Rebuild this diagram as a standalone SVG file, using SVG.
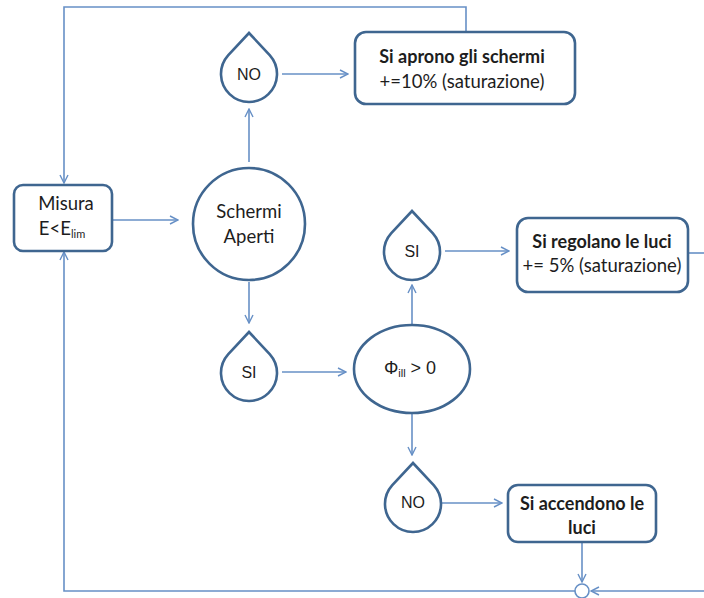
<svg xmlns="http://www.w3.org/2000/svg" width="704" height="598" viewBox="0 0 704 598">
  <defs>
    <marker id="arrow" viewBox="0 0 10 10" refX="9" refY="5" markerWidth="10" markerHeight="10" markerUnits="userSpaceOnUse" orient="auto">
      <path d="M1,1 L9,5 L1,9" fill="none" stroke="#6790C6" stroke-width="1.4"/>
    </marker>
  </defs>
  <style>
    .conn { fill: none; stroke: #6790C6; stroke-width: 1.6; }
    .shape { fill: #ffffff; stroke: #3F6690; stroke-width: 2.6; }
    .lbl { font-family: Lato, "Liberation Sans", sans-serif; font-size: 18.5px; fill: #1d1d1d; text-anchor: middle; }
    .bold { font-weight: bold; font-size: 18px; }
    .arial { font-family: "Liberation Sans", Arial, sans-serif; font-size: 16px; fill: #1d1d1d; text-anchor: middle; }
    .phi { font-size: 18px; }
    .sub { font-size: 11px; }
  </style>
  <rect width="704" height="598" fill="#ffffff"/>

  <!-- connectors -->
  <g id="connectors">
    <path class="conn" d="M466,32 V7 H64 V183" marker-end="url(#arrow)"/>
    <path class="conn" d="M113,220 H178" marker-end="url(#arrow)"/>
    <path class="conn" d="M249,162 V109" marker-end="url(#arrow)"/>
    <path class="conn" d="M282,74 H348" marker-end="url(#arrow)"/>
    <path class="conn" d="M249,282 V323" marker-end="url(#arrow)"/>
    <path class="conn" d="M282,372 H346" marker-end="url(#arrow)"/>
    <path class="conn" d="M412,324 V285" marker-end="url(#arrow)"/>
    <path class="conn" d="M445,251 H509" marker-end="url(#arrow)"/>
    <path class="conn" d="M688,253 H704"/>
    <path class="conn" d="M412,414 V455" marker-end="url(#arrow)"/>
    <path class="conn" d="M441,503 H502" marker-end="url(#arrow)"/>
    <path class="conn" d="M582,543 V582" marker-end="url(#arrow)"/>
    <path class="conn" d="M704,591 H591" marker-end="url(#arrow)"/>
    <path class="conn" d="M575,591 H64 V252" marker-end="url(#arrow)"/>
    <circle class="conn" cx="582" cy="591" r="7"/>
  </g>

  <!-- Misura -->
  <g id="misura">
    <rect class="shape" x="14" y="185" width="98" height="66" rx="9"/>
    <text class="lbl" x="66" y="210">Misura</text>
    <text class="lbl" x="62" y="235">E&lt;E<tspan class="sub" dy="3">lim</tspan></text>
  </g>

  <!-- Schermi Aperti -->
  <g id="schermi-aperti">
    <circle class="shape" cx="249" cy="224" r="56"/>
    <text class="lbl" x="249" y="218">Schermi</text>
    <text class="lbl" x="249" y="243">Aperti</text>
  </g>

  <!-- NO (top) -->
  <g id="no-top">
    <path class="shape" d="M249,33 L269.9,55.3 A28,28 0 1 1 228.1,55.3 Z"/>
    <text class="arial" x="249" y="80">NO</text>
  </g>

  <!-- Si aprono gli schermi -->
  <g id="aprono">
    <rect class="shape" x="355" y="32" width="220" height="72" rx="11"/>
    <text class="lbl bold" x="462" y="63">Si aprono gli schermi</text>
    <text class="lbl" x="462" y="88">+=10% (saturazione)</text>
  </g>

  <!-- SI (below Schermi Aperti) -->
  <g id="si-left">
    <path class="shape" d="M249,332 L269.9,354.3 A28,28 0 1 1 228.1,354.3 Z"/>
    <text class="arial" x="249" y="378">SI</text>
  </g>

  <!-- Phi_ill > 0 -->
  <g id="phi">
    <ellipse class="shape" cx="412" cy="369" rx="58" ry="44"/>
    <text class="arial phi" x="410" y="374">Φ<tspan class="sub" dy="3">ill</tspan><tspan dy="-3"> &gt; 0</tspan></text>
  </g>

  <!-- SI (upper right) -->
  <g id="si-right">
    <path class="shape" d="M412,211 L432.9,233.3 A28,28 0 1 1 391.1,233.3 Z"/>
    <text class="arial" x="412" y="257">SI</text>
  </g>

  <!-- Si regolano le luci -->
  <g id="regolano">
    <rect class="shape" x="517" y="218" width="171" height="74" rx="11"/>
    <text class="lbl bold" x="602" y="248">Si regolano le luci</text>
    <text class="lbl" x="602" y="272">+= 5% (saturazione)</text>
  </g>

  <!-- NO (lower) -->
  <g id="no-bottom">
    <path class="shape" d="M413,463 L433.9,485.3 A28,28 0 1 1 392.1,485.3 Z"/>
    <text class="arial" x="413" y="508">NO</text>
  </g>

  <!-- Si accendono le luci -->
  <g id="accendono">
    <rect class="shape" x="508" y="485" width="148" height="57" rx="10"/>
    <text class="lbl bold" x="582" y="510">Si accendono le</text>
    <text class="lbl bold" x="582" y="534">luci</text>
  </g>
</svg>
